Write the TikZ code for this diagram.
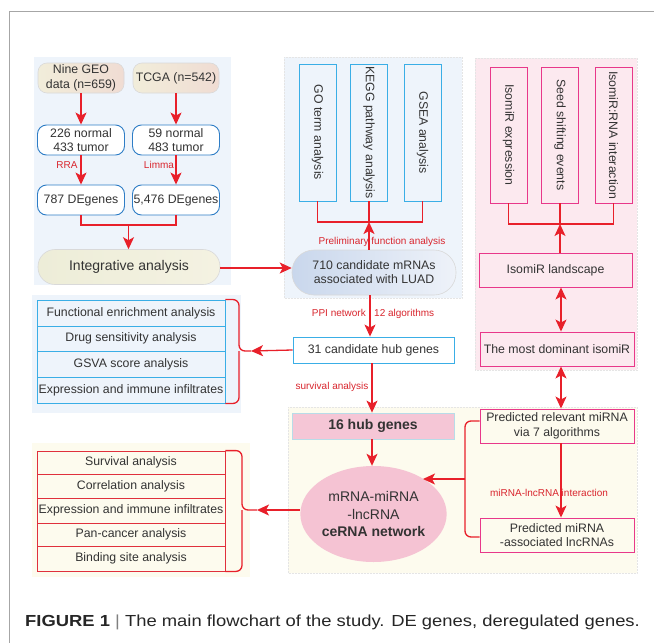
\documentclass[tikz,border=0pt]{standalone}
\usepackage{fontspec}
\setmainfont{Liberation Sans}
\usetikzlibrary{arrows.meta,shapes.geometric,calc}
\definecolor{rd}{HTML}{E8202A}
\definecolor{rdt}{HTML}{D9262E}
\definecolor{txt}{HTML}{333333}
\definecolor{dblue}{HTML}{2E7DC6}
\definecolor{sblue}{HTML}{3AAEE6}
\definecolor{pk}{HTML}{E8388A}
\definecolor{pbl}{HTML}{EEF4FB}
\definecolor{ppk}{HTML}{FCE9EF}
\definecolor{pyl}{HTML}{FDFBEE}
\definecolor{beigeL}{HTML}{F1EDDA}
\definecolor{beigeR}{HTML}{F0DCD3}
\definecolor{intL}{HTML}{EDEDD8}
\definecolor{intR}{HTML}{F4F2E2}
\definecolor{mrL}{HTML}{C9D7EC}
\definecolor{mrR}{HTML}{EEF2F9}
\definecolor{hubpk}{HTML}{F5C6D6}
\definecolor{cepk}{HTML}{F5C3D3}
\definecolor{tred}{HTML}{E0303C}
\definecolor{hubbd}{HTML}{B8DCE8}
\tikzset{
  base/.style={font=\fontsize{12.3}{14.5}\selectfont, text=txt, align=center, inner sep=0pt},
  rbox/.style={base, draw=dblue, line width=0.9pt, rounded corners=9pt, fill=white, minimum width=87pt, minimum height=30pt},
  srcbox/.style={base, draw=black!15, line width=0.6pt, rounded corners=9pt, left color=beigeL, right color=beigeR, minimum width=86pt, minimum height=30pt},
  vbox/.style={base, draw=sblue, line width=0.9pt, minimum width=37pt, minimum height=137pt},
  vpbox/.style={base, draw=pk, line width=0.9pt, minimum width=37pt, minimum height=136pt},
  pbox/.style={base, draw=pk, line width=0.9pt, minimum width=154pt, minimum height=34pt},
  sbox/.style={base, draw=sblue, line width=0.9pt, fill=white, minimum width=161pt, minimum height=26pt},
  brow/.style={base, draw=sblue, line width=0.9pt, minimum width=188pt},
  rrow/.style={base, draw=tred, line width=0.8pt, minimum width=188pt},
  ln/.style={draw=rd, line width=1.3pt},
  arr/.style={ln, -{Stealth[length=12pt,width=11pt,inset=3pt]}},
  darr/.style={ln, {Stealth[length=12pt,width=11pt,inset=3pt]}-{Stealth[length=12pt,width=11pt,inset=3pt]}},
  brk/.style={ln, rounded corners=6pt},
  lbl/.style={font=\fontsize{10}{12}\selectfont, text=rdt, inner sep=1pt},
  panel/.style={draw=black!10, densely dotted, line width=0.5pt}
}
\begin{document}
\begin{tikzpicture}[x=1pt,y=-1pt]
\useasboundingbox (0,0) rectangle (654,643);
\fill[white] (0,0) rectangle (654,643);
% frame
\draw[black!35, line width=0.9pt] (9,643) -- (9,11) -- (654,11);

% panels
\fill[pbl] (34,57) rectangle (231,285);
\filldraw[fill=pbl, panel] (284,57) rectangle (462,298);
\filldraw[fill=ppk, panel] (475,58) rectangle (637,370);
\fill[pbl] (32,295) rectangle (241,413);
\fill[pyl] (32,443) rectangle (250,577);
\filldraw[fill=pyl, panel] (288,407) rectangle (637,573);

% left data column
\node[srcbox] (geo) at (81,78) {Nine GEO\\data (n=659)};
\node[srcbox] (tcga) at (176,78) {TCGA (n=542)};
\node[rbox] (n226) at (81,140) {226 normal\\433 tumor};
\node[rbox] (n59) at (176,140) {59 normal\\483 tumor};
\node[rbox] (d787) at (81,200) {787 DEgenes};
\node[rbox] (d5476) at (176,200) {5,476 DEgenes};
\node[base, draw=black!15, line width=0.6pt, rounded corners=17pt, left color=intL, right color=intR, minimum width=182pt, minimum height=35pt, font=\fontsize{14}{16}\selectfont] (integ) at (129,267) {Integrative analysis};

\draw[arr] (geo) -- (n226);
\draw[arr] (tcga) -- (n59);
\draw[arr] (n226) -- (d787);
\draw[arr] (n59) -- (d5476);
\node[lbl] (rra) at (67,165) {RRA};
\node[lbl] (limma) at (159,165) {Limma};
\coordinate (j1) at (128.5,225);
\draw[ln] (d787.south) |- (j1) -| (d5476.south);
\draw[arr] (j1) -- (integ.north -| j1);

% function analysis panel
\node[vbox] (go) at (317.5,132.5) {\rotatebox{-90}{GO term analysis}};
\node[vbox] (kegg) at (369,132.5) {\rotatebox{-90}{KEGG pathway analysis}};
\node[vbox] (gsea) at (422.5,132.5) {\rotatebox{-90}{GSEA analysis}};
\node[base, draw=black!15, line width=0.6pt, rounded corners=22pt, left color=mrL, right color=mrR, minimum width=164pt, minimum height=45pt, font=\fontsize{12.3}{14}\selectfont] (mrna) at (374,272.5) {710 candidate mRNAs\\associated with LUAD};
\coordinate (j2) at (369,222);
\draw[ln] (go.south) |- (j2) -| (gsea.south);
\draw[ln] (kegg.south) -- (j2);
\draw[arr] (kegg.south |- mrna.north) -- (j2);
\node[lbl] (prelim) at (382,242) {Preliminary function analysis};
\draw[arr] (integ.east |- 0,268) -- (mrna.west |- 0,268);

% hub genes
\node[sbox] (hub31) at (373.5,350) {31 candidate hub genes};
\draw[arr] (mrna.south -| 370,0) -- (hub31.north -| 370,0);
\node[lbl, anchor=east] (ppi) at (367,313) {PPI network};
\node[lbl, anchor=west] (alg12) at (373,314) {12 algorithms};

% left-middle table
\node[brow, minimum height=26pt] (r1) at (131,313) {Functional enrichment analysis};
\node[brow, minimum height=25pt] (r2) at (131,338.5) {Drug sensitivity analysis};
\node[brow, minimum height=26pt] (r3) at (131,364) {GSVA score analysis};
\node[brow, minimum height=26pt] (r4) at (131,390) {Expression and immune infiltrates};
\coordinate (b1) at (251,351);
\draw[brk] (r1.north east) -| (239,351) -- (b1);
\draw[brk] (r4.south east) -| (239,351);
\draw[arr] (hub31.west) -- (b1);

% survival -> 16 hub genes
\node[base, draw=hubbd, line width=0.8pt, fill=hubpk, minimum width=162pt, minimum height=26pt, font=\fontsize{14}{16}\selectfont\bfseries] (hub16) at (373,426) {16 hub genes};
\draw[arr] (hub31.south -| 372,0) -- (hub16.north -| 372,0);
\node[lbl] (surv) at (332,387) {survival analysis};

% ceRNA ellipse
\node[ellipse, fill=cepk, minimum width=141pt, minimum height=96pt, inner sep=0pt, text=txt, align=center, font=\fontsize{14}{17.5}\selectfont] (cerna) at (373.5,514) {mRNA-miRNA\\-lncRNA\\\textbf{ceRNA network}};
\draw[arr] (hub16.south -| 372,0) -- (cerna.north -| 372,0);

% isomiR panel
\node[vpbox] (iexp) at (508.5,135) {\rotatebox{-90}{IsomiR expression}};
\node[vpbox] (seed) at (560,135) {\rotatebox{-90}{Seed shifting events}};
\node[vpbox] (irna) at (613.5,135) {\rotatebox{-90}{IsomiR:RNA interaction}};
\node[pbox, minimum width=153pt] (land) at (555.5,270) {IsomiR landscape};
\node[pbox] (dom) at (557,349) {The most dominant isomiR};
\node[pbox] (pmir) at (557,426) {Predicted relevant miRNA\\via 7 algorithms};
\node[pbox] (plnc) at (557,535) {Predicted miRNA\\-associated lncRNAs};
\coordinate (j3) at (560,224);
\draw[ln] (iexp.south) |- (j3) -| (irna.south);
\draw[ln] (seed.south) -- (j3);
\draw[arr] (land.north -| j3) -- (j3);
\draw[darr] (land.south -| 561,0) -- (dom.north -| 561,0);
\draw[darr] (dom.south -| 561,0) -- (pmir.north -| 561,0);
\draw[arr] (pmir.south -| 561,0) -- (plnc.north -| 561,0);
\node[lbl] (mlint) at (549,493) {miRNA-lncRNA interaction};

% bracket into ceRNA
\coordinate (b3) at (465,479);
\coordinate (ce) at (423,479);
\draw[brk] (pmir.west |- 0,421) -| (b3);
\draw[brk] (plnc.west |- 0,537) -| (b3);
\draw[arr] (b3) -- (ce);

% bottom-left table
\node[rrow, minimum height=23pt] (s1) at (131,462.5) {Survival analysis};
\node[rrow, minimum height=24pt] (s2) at (131,486) {Correlation analysis};
\node[rrow, minimum height=25pt] (s3) at (131,510.5) {Expression and immune infiltrates};
\node[rrow, minimum height=23pt] (s4) at (131,534.5) {Pan-cancer analysis};
\node[rrow, minimum height=25pt] (s5) at (131,558.5) {Binding site analysis};
\coordinate (b2) at (257,510);
\draw[brk] (s1.north east) -| (242,510) -- (b2);
\draw[brk] (s5.south east) -| (242,510);
\draw[arr] (cerna.west |- b2) -- (b2);

% caption
\node[anchor=west, inner sep=0pt, text=black!85, font=\fontsize{16}{18}\selectfont] (cap) at (25,622) {\scalebox{1.15}[1]{\textbf{FIGURE 1} \textcolor{black!50}{|} The main flowchart of the study. DE genes, deregulated genes.}};
\end{tikzpicture}
\end{document}
